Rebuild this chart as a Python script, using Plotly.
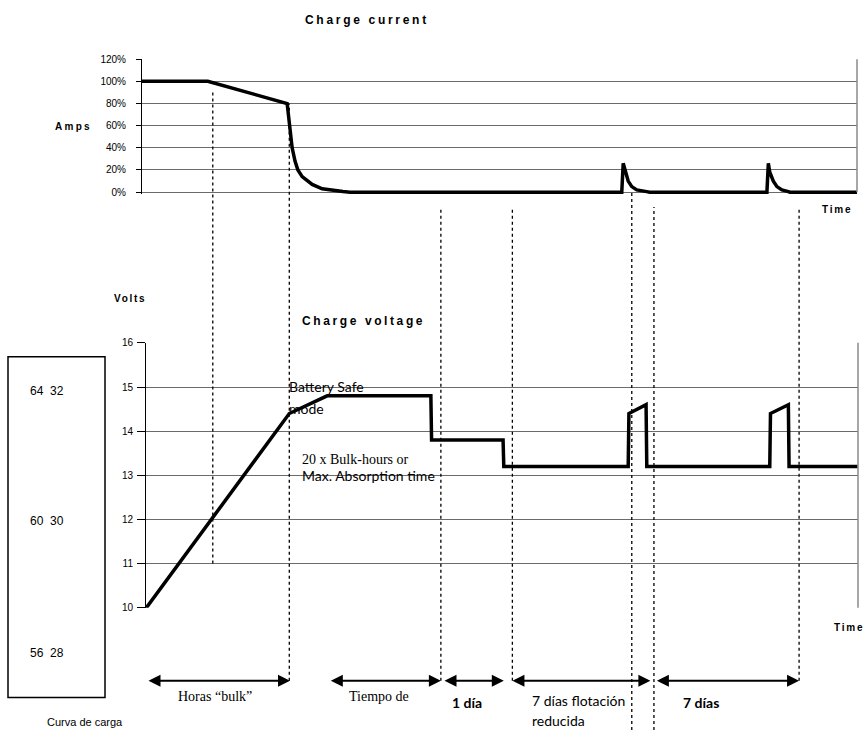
import plotly.graph_objects as go

W, H = 866, 736

# time axis is in arbitrary units, 0..100 across the charge-current chart
current_time = [0, 9.2, 20.3, 20.6, 21.0, 21.4, 21.8, 22.4, 23.1, 23.8, 25.2, 26.7, 28.1, 29.1,
                67.1, 67.3, 67.6, 68.0, 68.5, 69.2, 70.6, 71.0,
                87.4, 87.6, 87.8, 88.3, 88.8, 89.5, 90.4, 90.6, 100]
current_pct = [100, 100, 80, 60, 40, 28, 20, 14, 10, 7, 3, 1.5, 0.5, 0,
               0, 26, 18, 10, 5, 2, 0.5, 0,
               0, 26, 18, 10, 5, 2, 0.5, 0, 0]

voltage_time = [0.6, 20.6, 25.9, 40.4, 40.5, 50.5, 50.6, 68.0, 68.1, 70.5, 70.6,
                87.8, 87.9, 90.4, 90.5, 100.1]
voltage = [10, 14.4, 14.8, 14.8, 13.8, 13.8, 13.2, 13.2, 14.4, 14.6, 13.2,
           13.2, 14.4, 14.6, 13.2, 13.2]

marker_time = [9.9, 20.6, 41.8, 51.8, 68.5, 71.6, 91.9]

phase_start = [0.7, 26.2, 42.1, 51.6, 71.8]
phase_end = [20.7, 41.8, 50.6, 71.1, 91.9]

current_ticks = [0, 20, 40, 60, 80, 100, 120]
voltage_ticks = [10, 11, 12, 13, 14, 15, 16]
box_labels = ["64  32", "60  30", "56  28"]


def px(x):
    return x / W


def py(y):
    return 1 - y / H


fig = go.Figure()
fig.add_trace(go.Scatter(x=current_time, y=current_pct, mode="lines",
                         line={"color": "black", "width": 3.5}, xaxis="x", yaxis="y"))
fig.add_trace(go.Scatter(x=voltage_time, y=voltage, mode="lines",
                         line={"color": "black", "width": 3.5}, xaxis="x2", yaxis="y2"))

tickfont = {"family": "Liberation Sans, Arial, sans-serif", "size": 10, "color": "black"}
fig.update_layout(
    width=W, height=H, autosize=False,
    margin={"l": 0, "r": 0, "t": 0, "b": 0},
    paper_bgcolor="white", plot_bgcolor="white",
    showlegend=False,
    font={"family": "Liberation Sans, Arial, sans-serif", "color": "black"},
    xaxis={"domain": [px(142), px(857)], "range": [0, 100], "visible": False, "anchor": "y"},
    yaxis={"domain": [py(192.25), py(55)], "range": [-2, 120], "tickvals": current_ticks,
           "ticktext": [f"{v}%" for v in current_ticks], "showline": True, "linecolor": "black",
           "linewidth": 1, "ticks": "outside", "ticklen": 5, "tickcolor": "black",
           "gridcolor": "#6b6b6b", "zeroline": False, "tickfont": tickfont,
           "ticklabelstandoff": 8, "anchor": "x"},
    xaxis2={"domain": [px(146), px(858)], "range": [0.56, 100.14], "visible": False, "anchor": "y2"},
    yaxis2={"domain": [py(612), py(343)], "range": [10, 16], "tickvals": voltage_ticks,
            "showline": True, "linecolor": "black", "linewidth": 1, "ticks": "outside",
            "ticklen": 8, "tickcolor": "black", "gridcolor": "#6b6b6b", "zeroline": False,
            "tickfont": tickfont, "ticklabelstandoff": 2, "anchor": "x2"},
)

# right-hand frame edges
fig.add_shape(type="line", xref="x domain", yref="paper", x0=1, x1=1, y0=py(190), y1=py(55),
              line={"color": "#8a8a8a", "width": 1.5})
fig.add_shape(type="line", xref="x2 domain", yref="y2 domain", x0=1, x1=1, y0=0, y1=1,
              line={"color": "#8a8a8a", "width": 1.5})

# dotted event markers spanning both charts
spans = [(87, 567), (100, 686), (205, 686), (205, 686), (190, 736), (205, 736), (205, 686)]
for t, (top, bottom) in zip(marker_time, spans):
    fig.add_shape(type="line", xref="x", yref="paper", x0=t, x1=t, y0=py(bottom), y1=py(top),
                  line={"color": "black", "width": 1.3, "dash": "dot"})

# left legend box
fig.add_shape(type="rect", xref="paper", yref="paper", x0=px(8), x1=px(105), y0=py(703), y1=py(357),
              line={"color": "black", "width": 1.5})

ann = []
for s, e in zip(phase_start, phase_end):
    ann.append(dict(x=e, y=py(686), xref="x", yref="paper", ax=s, ay=0, axref="x", ayref="pixel",
                    showarrow=True, arrowhead=2, arrowsize=1.2, arrowwidth=2, arrowside="end+start",
                    arrowcolor="black", standoff=0, startstandoff=0, text=""))


def label(text, x, y, size, family, anchor="center", bold=False):
    ann.append(dict(x=px(x), y=py(y), xref="paper", yref="paper", text=f"<b>{text}</b>" if bold else text,
                    showarrow=False, xanchor=anchor, yanchor="middle", align=anchor,
                    font={"family": family, "size": size, "color": "black"}))


arial = "Liberation Sans, Arial, sans-serif"
serif = "Liberation Serif, Times New Roman, serif"
calibri = "Lato, Carlito, sans-serif"

label("Charge current", 303, 15, 12, arial, "left", True)
label("Amps", 53, 123, 10, arial, "left", True)
label("Time", 820, 208, 10, arial, "left", True)
label("Volts", 112, 298, 10, arial, "left", True)
label("Charge voltage", 300, 321, 12, arial, "left", True)
label("Time", 832, 632, 10, arial, "left", True)

label("Battery Safe", 287, 387, 14, calibri, "left")
label("mode", 287, 410, 14, calibri, "left")
label("20 x Bulk-hours or", 300, 461, 14, serif, "left")
label("Max. Absorption time", 300, 478, 14, calibri, "left")

for txt, y in zip(box_labels, [392, 524, 658]):
    label(txt, 28, y, 12, arial, "left")

label("Horas “bulk”", 215, 702, 14, serif)
label("Tiempo de", 379, 702, 14, serif)
label("1 día", 467, 708, 14, calibri, bold=True)
label("7 días flotación", 530, 706, 14, calibri, "left")
label("reducida", 530, 726, 14, calibri, "left")
label("7 días", 701, 708, 14, calibri, bold=True)
label("Curva de carga", 45, 728, 11, arial, "left")

fig.update_layout(annotations=ann)

post = """
document.body.style.margin='0';
var sp={'Charge current':2.7,'Charge voltage':2.6,'Amps':2.3,'Volts':1.7,'Time':1.8};
document.querySelectorAll('text.annotation-text').forEach(function(t){
  var k=t.textContent; if(sp[k]!==undefined){t.setAttribute('letter-spacing', sp[k]+'px');}
});
"""
fig.write_html("out.html", post_script=post, config={"displayModeBar": False})
